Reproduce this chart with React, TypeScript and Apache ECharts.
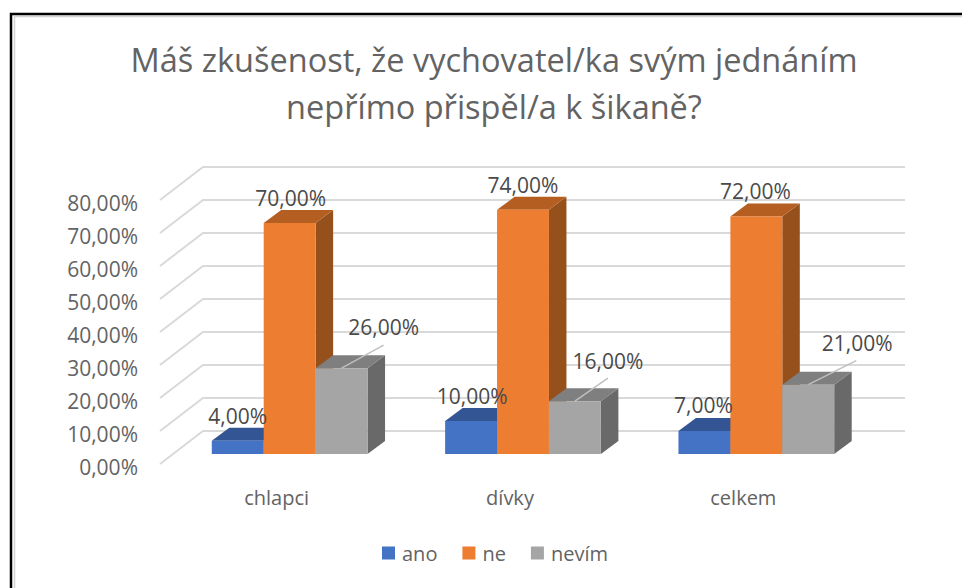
import React, { useEffect, useRef } from "react";
import * as echarts from "echarts";

const titleText = "Máš zkušenost, že vychovatel/ka svým jednáním\nnepřímo přispěl/a k šikaně?";
const categories = ["chlapci", "dívky", "celkem"];
const yTicks = [0, 10, 20, 30, 40, 50, 60, 70, 80];
const ano = [4, 10, 7];
const ne = [70, 74, 72];
const nevim = [26, 16, 21];

const FONT = "'Open Sans', sans-serif";

// wall depth and bar geometry of the faux-3D projection
const WALL = { dx: 43, dy: -33, extraRight: 2 };
const BAR = { inX: 13, inY: -10, dx: 17.5, dy: -13, widthRatio: 0.2225 };

const PALETTE = [
  { front: "#4472C4", top: "#335593", side: "#2D4B85" },
  { front: "#ED7D31", top: "#B45F21", side: "#95501C" },
  { front: "#A5A5A5", top: "#7F7F7F", side: "#696969" },
];

// label placement relative to the bar's front-top centre
const LABEL_NUDGE: { x: number; y: number; leader?: [number, number] }[][] = [
  [
    { x: 0, y: -25 },
    { x: 1, y: -25 },
    { x: 42, y: -41, leader: [42, -23] },
  ],
  [
    { x: 1, y: -25 },
    { x: 0, y: -25 },
    { x: 33, y: -40, leader: [33, -23] },
  ],
  [
    { x: -1, y: -26 },
    { x: -1, y: -25 },
    { x: 49, y: -42, leader: [48, -24] },
  ],
];

const fmt = (v: number) => v.toFixed(2).replace(".", ",") + "%";

function barSeries(name: string, values: number[], idx: number) {
  const c = PALETTE[idx];
  return {
    type: "custom",
    name,
    coordinateSystem: "cartesian2d",
    itemStyle: { color: c.front },
    clip: false,
    silent: true,
    encode: { x: 0, y: 1 },
    data: values.map((v, i) => [i, v]),
    renderItem: (_p: any, api: any) => {
      const cat = api.value(0);
      const val = api.value(1);
      const w = api.size([1, 0])[0] * BAR.widthRatio;
      const base = api.coord([cat, 0]);
      const top = api.coord([cat, val]);
      const xl = base[0] + BAR.inX + (idx - 1.5) * w;
      const xr = xl + w;
      const yb = base[1] + BAR.inY;
      const yt = top[1] + BAR.inY;
      const { dx, dy } = BAR;
      const nudge = LABEL_NUDGE[cat][idx];
      const cx = (xl + xr) / 2;
      const children: any[] = [
        {
          type: "polygon",
          shape: { points: [[xr, yb], [xr + dx, yb + dy], [xr + dx, yt + dy], [xr, yt]] },
          style: { fill: c.side },
        },
        {
          type: "polygon",
          shape: { points: [[xl, yt], [xl + dx, yt + dy], [xr + dx, yt + dy], [xr, yt]] },
          style: { fill: c.top },
        },
        {
          type: "rect",
          shape: { x: xl, y: yt, width: w, height: yb - yt },
          style: { fill: c.front },
        },
      ];
      if (nudge.leader) {
        children.push({
          type: "line",
          z2: 50,
          shape: { x1: cx, y1: yt, x2: cx + nudge.leader[0], y2: yt + nudge.leader[1] },
          style: { stroke: "#BFBFBF", lineWidth: 1.5 },
        });
      }
      children.push({
        type: "text",
        z2: 100,
        x: cx + nudge.x,
        y: yt + nudge.y,
        style: {
          text: fmt(val),
          fill: "#4A4A4A",
          font: `21px ${FONT}`,
          textAlign: "center",
          textVerticalAlign: "middle",
        },
      });
      return { type: "group", children };
    },
  };
}

export default function App() {
  const ref = useRef<HTMLDivElement>(null);
  useEffect(() => {
    const chart = echarts.init(ref.current!, null, { renderer: "svg" });
    chart.setOption({
      animation: false,
      backgroundColor: "#fff",
      title: {
        text: titleText,
        left: 489,
        top: 31,
        textAlign: "center",
        textStyle: { color: "#636363", fontSize: 32.5, fontWeight: "normal", fontFamily: FONT, lineHeight: 47 },
      },
      legend: {
        left: 377,
        top: 538,
        itemWidth: 13,
        itemHeight: 13,
        itemGap: 25,
        icon: "rect",
        selectedMode: false,
        textStyle: { color: "#636363", fontSize: 20, fontFamily: FONT, padding: [0, 0, 0, 2] },
        data: ["ano", "ne", "nevím"],
      },
      grid: { left: 160, right: 102, top: 200, bottom: 124 },
      xAxis: {
        type: "category",
        data: categories,
        axisLine: { show: false },
        axisTick: { show: false },
        axisLabel: { color: "#636363", fontSize: 20, fontFamily: FONT, margin: 23 },
      },
      yAxis: {
        type: "value",
        min: 0,
        max: 80,
        interval: 10,
        axisLine: { show: false },
        axisTick: { show: false },
        splitLine: { show: false },
        axisLabel: {
          color: "#636363",
          fontSize: 21,
          fontFamily: FONT,
          margin: 22,
          verticalAlign: "top",
          lineHeight: 6,
          formatter: (v: number) => fmt(v),
        },
      },
      series: [
        {
          type: "custom",
          coordinateSystem: "cartesian2d",
          clip: false,
          silent: true,
          encode: { x: 0, y: 1 },
          data: yTicks.map((t) => [0, t]),
          renderItem: (p: any, api: any) => {
            const y = api.coord([0, api.value(1)])[1];
            const { x, width } = p.coordSys;
            return {
              type: "polyline",
              shape: {
                points: [
                  [x, y],
                  [x + WALL.dx, y + WALL.dy],
                  [x + width + WALL.dx + WALL.extraRight, y + WALL.dy],
                ],
              },
              style: { stroke: "#D9D9D9", lineWidth: 2, fill: "none" },
            };
          },
        },
        barSeries("ano", ano, 0),
        barSeries("ne", ne, 1),
        barSeries("nevím", nevim, 2),
      ],
      graphic: [
        { type: "rect", shape: { x: 14.5, y: 16.5, width: 960, height: 600 }, style: { fill: "none", stroke: "#D4D4D4", lineWidth: 1.5 }, z: 9 },
        { type: "rect", shape: { x: 11, y: 14, width: 960, height: 600 }, style: { fill: "none", stroke: "#000", lineWidth: 2.5 }, z: 10 },
      ],
    });
    return () => chart.dispose();
  }, []);
  return (
    <div style={{ position: "fixed", left: 0, top: 0, width: 962, height: 588, background: "#fff" }}>
      <div ref={ref} style={{ width: 962, height: 588 }} />
    </div>
  );
}
